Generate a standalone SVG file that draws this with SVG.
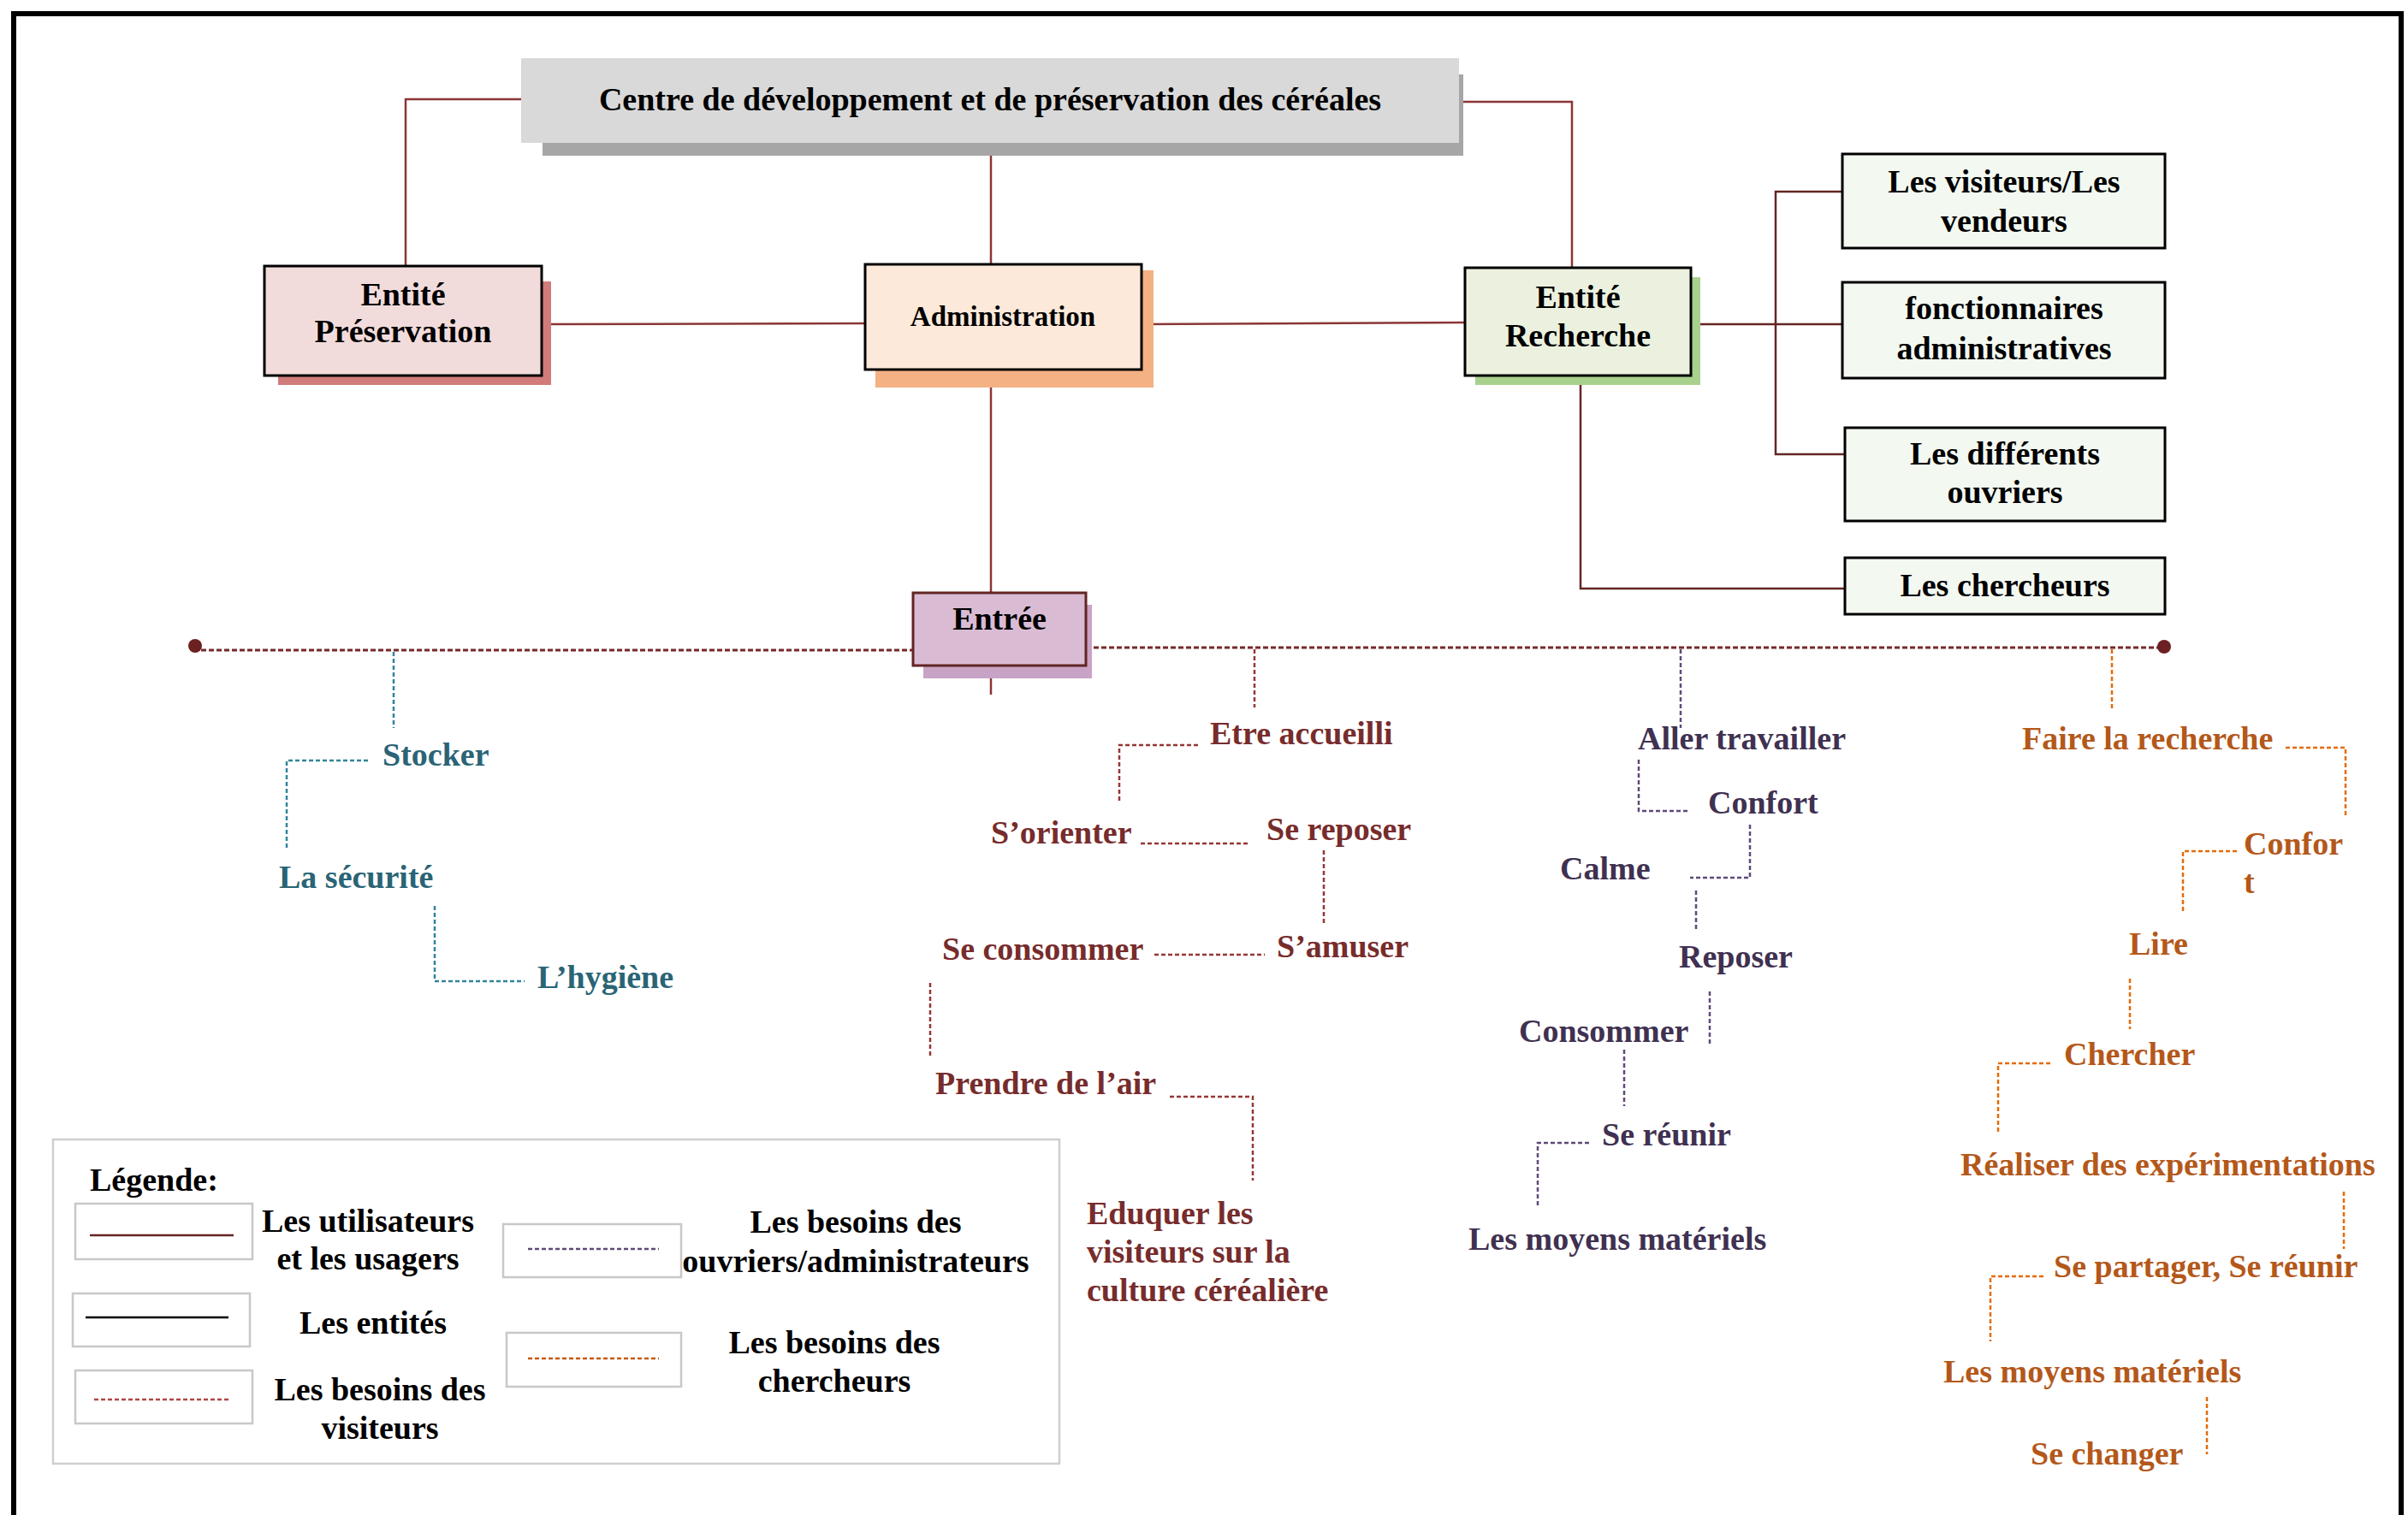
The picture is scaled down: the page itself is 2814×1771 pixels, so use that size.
<svg xmlns="http://www.w3.org/2000/svg" width="2814" height="1771" viewBox="0 0 2814 1771">
<style>
text{font-family:"Liberation Serif","Times New Roman",serif;font-weight:bold;font-size:38px}
.c{text-anchor:middle}
.k{fill:#000}
.teal{fill:#2a6475}
.vis{fill:#772c2c}
.wrk{fill:#3f3151}
.res{fill:#b4581a}
.box{stroke:#000;stroke-width:3}
.sol{fill:none;stroke:#8b3535;stroke-width:2.5}
.sold{fill:none;stroke:#632523;stroke-width:2.5}
.dl{fill:none;stroke-width:2.5;stroke-dasharray:5 3}
.dt{stroke:#31849b}
.dv{stroke:#953735}
.dw{stroke:#5f497a}
.dr{stroke:#e36c09}
.lg{fill:#fff;stroke:#c8c8c8;stroke-width:2.5}
</style>
<rect x="0" y="0" width="2814" height="1771" fill="#fff"/>
<rect x="16" y="16" width="2790" height="1800" fill="none" stroke="#000" stroke-width="6"/>

<g id="connectors">
  <polyline class="sol" points="609,116 474,116 474,311"/>
  <line class="sol" x1="1158" y1="167" x2="1158" y2="309"/>
  <polyline class="sol" points="1710,119 1837,119 1837,313"/>
  <line class="sol" x1="633" y1="379" x2="1011" y2="378"/>
  <line class="sol" x1="1334" y1="379" x2="1712" y2="377"/>
  <line class="sol" x1="1158" y1="432" x2="1158" y2="693"/>
  <line class="sol" x1="1158" y1="778" x2="1158" y2="812"/>
  <line class="sold" x1="1976" y1="379" x2="2153" y2="379"/>
  <polyline class="sold" points="2153,224 2075,224 2075,531 2156,531"/>
  <polyline class="sold" points="1847,439 1847,688 2156,688"/>
  <line x1="235" y1="760" x2="1067" y2="760" stroke="#76292a" stroke-width="3" stroke-dasharray="6 3"/>
  <line x1="1269" y1="757" x2="2522" y2="757" stroke="#76292a" stroke-width="3" stroke-dasharray="6 3"/>
  <circle cx="228" cy="755" r="8" fill="#6b2022"/>
  <circle cx="2529" cy="756" r="8" fill="#6b2022"/>
  <!-- teal -->
  <line class="dl dt" x1="460" y1="762" x2="460" y2="851"/>
  <polyline class="dl dt" points="430,889 335,889 335,992"/>
  <polyline class="dl dt" points="508,1059 508,1147 613,1147"/>
  <!-- visitors -->
  <line class="dl dv" x1="1466" y1="759" x2="1466" y2="827"/>
  <polyline class="dl dv" points="1400,871 1308,871 1308,939"/>
  <line class="dl dv" x1="1333" y1="986" x2="1460" y2="986"/>
  <line class="dl dv" x1="1547" y1="994" x2="1547" y2="1080"/>
  <line class="dl dv" x1="1349" y1="1116" x2="1478" y2="1116"/>
  <line class="dl dv" x1="1087" y1="1149" x2="1087" y2="1234"/>
  <polyline class="dl dv" points="1367,1282 1464,1282 1464,1380"/>
  <!-- workers -->
  <line class="dl dw" x1="1964" y1="759" x2="1964" y2="851"/>
  <polyline class="dl dw" points="1915,888 1915,948 1973,948"/>
  <polyline class="dl dw" points="2045,964 2045,1026 1975,1026"/>
  <line class="dl dw" x1="1982" y1="1041" x2="1982" y2="1088"/>
  <line class="dl dw" x1="1998" y1="1159" x2="1998" y2="1221"/>
  <line class="dl dw" x1="1898" y1="1227" x2="1898" y2="1293"/>
  <polyline class="dl dw" points="1857,1336 1797,1336 1797,1410"/>
  <!-- research -->
  <line class="dl dr" x1="2468" y1="759" x2="2468" y2="830"/>
  <polyline class="dl dr" points="2671,874 2741,874 2741,954"/>
  <polyline class="dl dr" points="2614,995 2551,995 2551,1068"/>
  <line class="dl dr" x1="2489" y1="1144" x2="2489" y2="1203"/>
  <polyline class="dl dr" points="2396,1243 2335,1243 2335,1323"/>
  <line class="dl dr" x1="2739" y1="1393" x2="2739" y2="1460"/>
  <polyline class="dl dr" points="2388,1492 2326,1492 2326,1568"/>
  <line class="dl dr" x1="2579" y1="1633" x2="2579" y2="1700"/>
</g>

<g id="centre">
  <rect x="634" y="87" width="1076" height="95" fill="#a6a6a6"/>
  <rect x="609" y="68" width="1096" height="99" fill="#d9d9d9"/>
  <text class="c k" x="1157" y="129">Centre de développement et de préservation des céréales</text>
</g>
<g id="preservation">
  <rect x="325" y="329" width="319" height="121" fill="#d17b7b"/>
  <rect class="box" x="309" y="311" width="324" height="128" fill="#f2dcdb"/>
  <text class="c k" x="471" y="357">Entité</text>
  <text class="c k" x="471" y="400">Préservation</text>
</g>
<g id="administration">
  <rect x="1023" y="316" width="325" height="137" fill="#f4b183"/>
  <rect class="box" x="1011" y="309" width="323" height="123" fill="#fce9da"/>
  <text class="c k" x="1172" y="381" style="font-size:33px">Administration</text>
</g>
<g id="recherche">
  <rect x="1724" y="324" width="263" height="126" fill="#a9d18e"/>
  <rect class="box" x="1712" y="313" width="264" height="126" fill="#ebf1de"/>
  <text class="c k" x="1844" y="360">Entité</text>
  <text class="c k" x="1844" y="405">Recherche</text>
</g>
<g id="entree">
  <rect x="1079" y="707" width="197" height="86" fill="#c9a3c6"/>
  <rect x="1067" y="693" width="202" height="85" fill="#d9bcd4" stroke="#632523" stroke-width="3"/>
  <text class="c k" x="1168" y="736">Entrée</text>
</g>
<g id="visiteurs">
  <rect class="box" x="2153" y="180" width="377" height="110" fill="#f3f8f1"/>
  <text class="c k" x="2342" y="225">Les visiteurs/Les</text>
  <text class="c k" x="2342" y="271">vendeurs</text>
</g>
<g id="fonctionnaires">
  <rect class="box" x="2153" y="330" width="377" height="112" fill="#f3f8f1"/>
  <text class="c k" x="2342" y="373">fonctionnaires</text>
  <text class="c k" x="2342" y="420">administratives</text>
</g>
<g id="ouvriers">
  <rect class="box" x="2156" y="500" width="374" height="109" fill="#f3f8f1"/>
  <text class="c k" x="2343" y="543">Les différents</text>
  <text class="c k" x="2343" y="588">ouvriers</text>
</g>
<g id="chercheurs">
  <rect class="box" x="2156" y="652" width="374" height="66" fill="#f3f8f1"/>
  <text class="c k" x="2343" y="697">Les chercheurs</text>
</g>

<g id="besoins-preservation">
  <text class="teal" x="447" y="895">Stocker</text>
  <text class="teal" x="326" y="1038">La sécurité</text>
  <text class="teal" x="628" y="1155">L’hygiène</text>
</g>
<g id="besoins-visiteurs">
  <text class="vis" x="1414" y="870">Etre accueilli</text>
  <text class="vis" x="1158" y="986">S’orienter</text>
  <text class="vis" x="1480" y="982">Se reposer</text>
  <text class="vis" x="1101" y="1122">Se consommer</text>
  <text class="vis" x="1492" y="1119">S’amuser</text>
  <text class="vis" x="1093" y="1279">Prendre de l’air</text>
  <text class="vis" x="1270" y="1431">Eduquer les</text>
  <text class="vis" x="1270" y="1476">visiteurs sur la</text>
  <text class="vis" x="1270" y="1521">culture céréalière</text>
</g>
<g id="besoins-ouvriers">
  <text class="wrk" x="1914" y="876">Aller travailler</text>
  <text class="wrk" x="1996" y="951">Confort</text>
  <text class="wrk" x="1823" y="1028">Calme</text>
  <text class="wrk" x="1962" y="1131">Reposer</text>
  <text class="wrk" x="1775" y="1218">Consommer</text>
  <text class="wrk" x="1872" y="1339">Se réunir</text>
  <text class="wrk" x="1716" y="1461">Les moyens matériels</text>
</g>
<g id="besoins-chercheurs">
  <text class="res" x="2363" y="876">Faire la recherche</text>
  <text class="res" x="2622" y="999">Confor</text>
  <text class="res" x="2622" y="1044">t</text>
  <text class="res" x="2488" y="1116">Lire</text>
  <text class="res" x="2412" y="1245">Chercher</text>
  <text class="res" x="2291" y="1374">Réaliser des expérimentations</text>
  <text class="res" x="2400" y="1493">Se partager, Se réunir</text>
  <text class="res" x="2271" y="1616">Les moyens matériels</text>
  <text class="res" x="2373" y="1712">Se changer</text>
</g>

<g id="legende">
  <rect x="62" y="1332" width="1176" height="379" fill="#fff" stroke="#cfcfcf" stroke-width="2.5"/>
  <text class="k" x="105" y="1392">Légende:</text>
  <rect class="lg" x="88" y="1407" width="207" height="65"/>
  <line x1="105" y1="1444" x2="273" y2="1444" stroke="#632523" stroke-width="2.5"/>
  <text class="c k" x="430" y="1440">Les utilisateurs</text>
  <text class="c k" x="430" y="1484">et les usagers</text>
  <rect class="lg" x="85" y="1512" width="207" height="62"/>
  <line x1="100" y1="1540" x2="267" y2="1540" stroke="#000" stroke-width="2.5"/>
  <text class="c k" x="436" y="1559">Les entités</text>
  <rect class="lg" x="88" y="1602" width="207" height="62"/>
  <line class="dl" x1="110" y1="1636" x2="267" y2="1636" stroke="#b04545" stroke-dasharray="4 2"/>
  <text class="c k" x="444" y="1637">Les besoins des</text>
  <text class="c k" x="444" y="1682">visiteurs</text>
  <rect class="lg" x="588" y="1431" width="208" height="62"/>
  <line class="dl dw" x1="617" y1="1460" x2="770" y2="1460" stroke-dasharray="4 2"/>
  <text class="c k" x="1000" y="1441">Les besoins des</text>
  <text class="c k" x="1000" y="1487">ouvriers/administrateurs</text>
  <rect class="lg" x="592" y="1558" width="204" height="63"/>
  <line class="dl" x1="617" y1="1588" x2="770" y2="1588" stroke="#c55a11" stroke-dasharray="4 2"/>
  <text class="c k" x="975" y="1582">Les besoins des</text>
  <text class="c k" x="975" y="1627">chercheurs</text>
</g>
</svg>
